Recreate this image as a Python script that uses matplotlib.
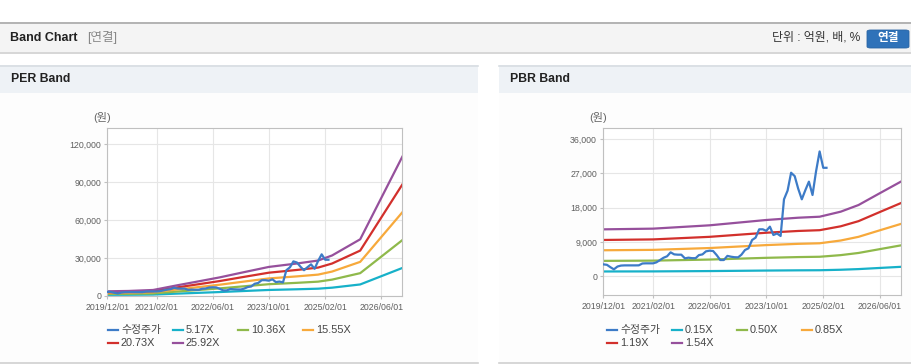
"""PER / PBR band chart recreation."""

import matplotlib

matplotlib.use("Agg")
import matplotlib.pyplot as plt
import matplotlib.dates as mdates
import pandas as pd
from matplotlib.lines import Line2D
from matplotlib.patches import FancyBboxPatch, Rectangle
from matplotlib.ticker import FuncFormatter

plt.rcParams["font.family"] = ["Liberation Sans", "Noto Sans CJK KR"]

W, H = 912, 364

# adjusted price, monthly from 2019/12
price_start = "2019-12-01"
price = [
    3070, 2950, 2300, 1760, 2500, 2750, 2800, 2800, 2800, 2800,
    2810, 3300, 3340, 3340, 3340, 3600, 4200, 4800, 5200, 6230,
    5700, 5620, 5620, 4650, 4830, 4700, 4700, 5500, 5700, 6500,
    6670, 6590, 5500, 4210, 4210, 5300, 5090, 4950, 4920, 5600,
    6850, 7290, 9480, 10100, 12300, 12300, 11900, 13000, 10800, 11200,
    10540, 20200, 22500, 27200, 26300, 23000, 20200, 22650, 24850, 21340,
    27500, 32800, 28500, 28500,
]

# per-share earnings / book value behind the bands
eps_dates = [
    "2019-12-01", "2020-06-01", "2021-01-01", "2021-08-01", "2022-02-01",
    "2022-08-01", "2023-02-01", "2023-10-01", "2024-06-01", "2024-12-01",
    "2025-04-01", "2025-12-01", "2026-12-01",
]
eps = [135, 145, 175, 320, 440, 560, 700, 880, 985, 1075, 1230, 1725, 4250]

bps_dates = [
    "2019-12-01", "2021-02-01", "2022-06-01", "2023-10-01", "2024-07-01",
    "2025-01-01", "2025-07-01", "2025-12-01", "2026-06-01", "2026-12-01",
]
bps = [7980, 8100, 8670, 9580, 9970, 10140, 11000, 12140, 14150, 16150]

per_multiples = [5.17, 10.36, 15.55, 20.73, 25.92]
pbr_multiples = [0.15, 0.50, 0.85, 1.19, 1.54]

price_label = "수정주가"
price_color = "#3d7bc7"
band_colors = ["#17b1c9", "#8fb94b", "#f7a93b", "#d2302c", "#96509c"]

x_ticks = ["2019-12-01", "2021-02-01", "2022-06-01", "2023-10-01", "2025-02-01", "2026-06-01"]
x_range = ("2019-12-01", "2026-12-01")


def fx(px):
    return px / W


def fy(py):
    return 1 - py / H


def add_rect(fig, x0, y0, x1, y1, color):
    fig.patches.append(
        Rectangle((fx(x0), fy(y1)), (x1 - x0) / W, (y1 - y0) / H,
                  transform=fig.transFigure, facecolor=color, edgecolor="none", zorder=-5)
    )


def add_hline(fig, x0, x1, y, color, lw=1.0):
    fig.add_artist(Line2D([fx(x0), fx(x1)], [fy(y), fy(y)], color=color, lw=lw,
                          transform=fig.transFigure, zorder=-4))


def band_axes(fig, box, ylim, yticks, dates, base, multiples):
    left, top, right, bottom = box
    ax = fig.add_axes([fx(left), fy(bottom), (right - left) / W, (bottom - top) / H])
    ax.set_zorder(5)
    ax.set_facecolor("white")
    price_x = pd.date_range(price_start, periods=len(price), freq="MS")
    base_x = pd.to_datetime(dates)
    for m, c in zip(multiples, band_colors):
        ax.plot(base_x, [b * m for b in base], color=c, lw=1.6, zorder=2)
    ax.plot(price_x, price, color=price_color, lw=1.6, zorder=3)

    ax.set_xlim(pd.to_datetime(x_range[0]), pd.to_datetime(x_range[1]))
    ax.set_ylim(*ylim)
    ax.set_xticks(pd.to_datetime(x_ticks))
    ax.xaxis.set_major_formatter(mdates.DateFormatter("%Y/%m/%d"))
    ax.set_yticks(yticks)
    ax.yaxis.set_major_formatter(FuncFormatter(lambda v, _: f"{v:,.0f}"))
    ax.tick_params(axis="both", labelsize=6.3, colors="#c0c0c0", labelcolor="#5f5f5f",
                   length=2.5, width=0.8)
    ax.tick_params(axis="x", pad=2.5)
    ax.tick_params(axis="y", pad=2)
    ax.grid(True, color="#e6e6e6", lw=0.8, zorder=0)
    ax.set_axisbelow(True)
    for s in ax.spines.values():
        s.set_color("#c0c0c0")
        s.set_linewidth(0.8)
    return ax


def draw_legend(fig, x0, y0, labels):
    colors = [price_color] + band_colors
    for i, (lab, c) in enumerate(zip(labels, colors)):
        col, row = i % 4, i // 4
        x = x0 + col * 65
        y = y0 + row * 13
        fig.add_artist(Line2D([fx(x), fx(x + 10)], [fy(y), fy(y)], color=c, lw=1.6,
                              transform=fig.transFigure))
        fig.text(fx(x + 13), fy(y), lab, fontsize=7.8, color="#444444",
                 ha="left", va="center")


fig = plt.figure(figsize=(W / 100, H / 100), dpi=100)
fig.patch.set_facecolor("white")

# top header
add_rect(fig, 0, 22, W, 52, "#f4f4f4")
add_hline(fig, 0, W, 22.5, "#a8a8a8", 1.2)
add_hline(fig, 0, W, 52.5, "#d0d0d0", 1.2)
fig.text(fx(10), fy(38), "Band Chart", fontsize=9, fontweight="bold", color="#222222",
         ha="left", va="center")
fig.text(fx(87), fy(38), "[연결]", fontsize=9, color="#888888", ha="left", va="center")
fig.text(fx(860), fy(38), "단위 : 억원, 배, %", fontsize=8.6, color="#333333",
         ha="right", va="center")
fig.patches.append(
    FancyBboxPatch((fx(867), fy(48)), 42 / W, 18 / H, boxstyle="round,pad=0,rounding_size=0.004",
                   transform=fig.transFigure, facecolor="#2f72b9", edgecolor="#2a64a3", lw=0.6)
)
fig.text(fx(888), fy(38.5), "연결", fontsize=8.4, fontweight="bold", color="white",
         ha="center", va="center")

# panel headers
for x0, x1, title in [(0, 478, "PER Band"), (499, W, "PBR Band")]:
    add_rect(fig, x0, 65, x1, 93, "#eef2f6")
    add_hline(fig, x0, x1, 65.5, "#d8dde2", 1.2)
    add_rect(fig, x0, 93, x1, 362, "#fdfdfd")
    add_hline(fig, x0, x1, 362.5, "#d0d0d0", 1.2)
    fig.text(fx(x0 + 11), fy(79.5), title, fontsize=8.8, fontweight="bold",
             color="#222222", ha="left", va="center")

ax_per = band_axes(fig, (107.3, 128.3, 402.3, 295.7), (0, 132700),
                   range(0, 120001, 30000), eps_dates, eps, per_multiples)
ax_pbr = band_axes(fig, (603.3, 128.3, 901, 295), (-5000, 38900),
                   range(0, 36001, 9000), bps_dates, bps, pbr_multiples)

fig.text(fx(102), fy(118), "(원)", fontsize=8, color="#666666", ha="center", va="center")
fig.text(fx(598), fy(118), "(원)", fontsize=8, color="#666666", ha="center", va="center")

draw_legend(fig, 108, 330, [price_label] + [f"{m:.2f}X" for m in per_multiples])
draw_legend(fig, 607, 330, [price_label] + [f"{m:.2f}X" for m in pbr_multiples])

fig.savefig("out.png", dpi=100, facecolor=fig.get_facecolor())
